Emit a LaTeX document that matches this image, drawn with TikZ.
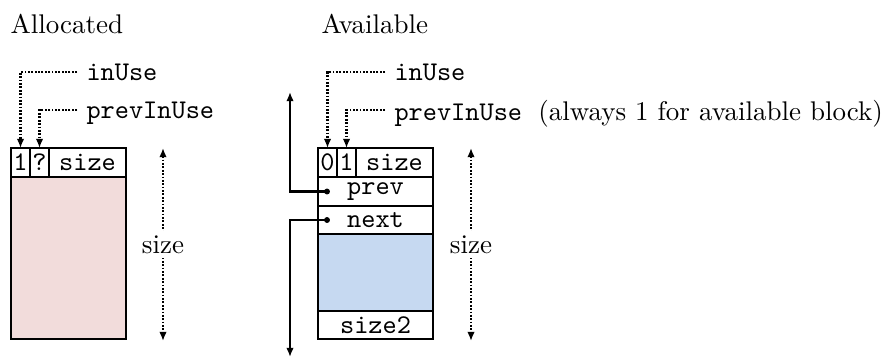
\documentclass[tikz,border=0pt]{standalone}
\usetikzlibrary{arrows.meta}
\definecolor{pinkfill}{HTML}{F2DCDB}
\definecolor{bluefill}{HTML}{C6D9F1}
\begin{document}
\begin{tikzpicture}[x=0.37037pt,y=-0.37037pt,
  cell/.style={draw,line width=0.75pt,inner sep=0pt,outer sep=0pt,anchor=north west,
    font=\ttfamily,minimum height=10.74pt},
  narrow/.style={cell,minimum width=7.04pt},
  wide/.style={cell,minimum width=28.52pt},
  full/.style={cell,minimum width=42.6pt},
  lbl/.style={anchor=west,font=\ttfamily,text depth=0pt},
  dotarr/.style={line width=0.8pt,dash pattern=on 0.65pt off 0.6pt,-{Latex[length=3.4pt,width=2.8pt]}},
  sizearr/.style={line width=0.8pt,dash pattern=on 0.65pt off 0.6pt,{Latex[length=3.4pt,width=2.8pt]}-{Latex[length=3.4pt,width=2.8pt]}},
  ptr/.style={line width=0.75pt,-{Latex[length=3.4pt,width=2.8pt]}},
  dotnode/.style={circle,fill,inner sep=0pt,minimum size=2.2pt}
]
\useasboundingbox (0,0) rectangle (894,358);

% titles
\node[anchor=base west,inner sep=0pt] (tAlloc) at (10,33) {Allocated};
\node[anchor=base west,inner sep=0pt] (tAvail) at (321,33) {Available};

% ---------- Allocated block ----------
\node[narrow] (aIn) at (11,148) {1};
\node[narrow] (aPrev) at (30,148) {?};
\node[wide] (aSize) at (49,148) {size};
\node[full,fill=pinkfill,minimum height=60pt] (aBody) at (11,177) {};

\node[lbl] (aIU) at (77,72) {inUse};
\node[lbl] (aPIU) at (77,110) {prevInUse};
\draw[dotarr] (aIU.west) -| (aIn.north);
\draw[dotarr] (aPIU.west) -| (aPrev.north);

\coordinate (aSt) at (163,148);
\coordinate (aSb) at (163,341);
\draw[sizearr] (aSt) -- node[fill=white,inner sep=1.5pt,font=\rmfamily] (aSz) {size} (aSb);

% ---------- Available block ----------
\node[narrow] (vIn) at (318,148) {0};
\node[narrow] (vPrev) at (337,148) {1};
\node[wide] (vSize) at (356,148) {size};
\node[full] (vPr) at (318,177) {prev};
\node[full,minimum height=10.37pt] (vNx) at (318,206) {next};
\node[full,fill=bluefill,minimum height=28.52pt] (vBody) at (318,234) {};
\node[full,minimum height=10.37pt] (vS2) at (318,311) {size2};

\node[lbl] (vIU) at (385,72) {inUse};
\node[lbl] (vPIU) at (385,110) {prevInUse\hspace{6pt}\rmfamily(always 1 for available block)};
\draw[dotarr] (vIU.west) -| (vIn.north);
\draw[dotarr] (vPIU.west) -| (vPrev.north);

\node[dotnode] (pdot) at (327,191.5) {};
\node[dotnode] (ndot) at (327,220) {};
\coordinate (pup) at (290,92);
\coordinate (ndown) at (290,357);
\draw[ptr] (pdot.center) -| (pup);
\draw[ptr] (ndot.center) -| (ndown);

\coordinate (vSt) at (471,148);
\coordinate (vSb) at (471,341);
\draw[sizearr] (vSt) -- node[fill=white,inner sep=1.5pt,font=\rmfamily] (vSz) {size} (vSb);
\end{tikzpicture}
\end{document}
